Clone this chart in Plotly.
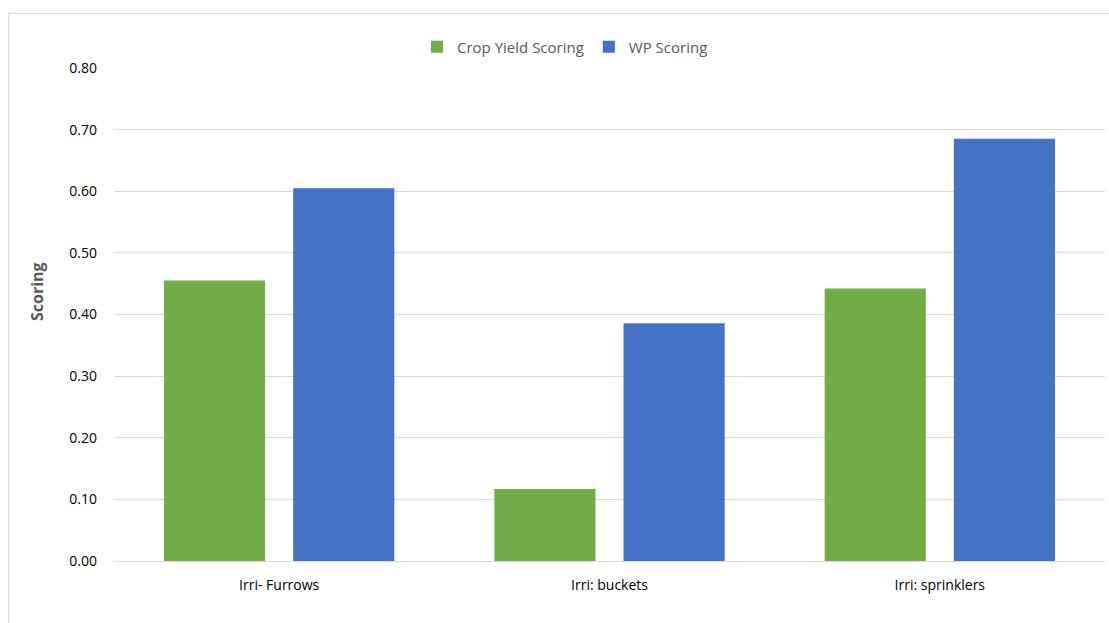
import plotly.graph_objects as go

categories = ["Irri- Furrows", "Irri: buckets", "Irri: sprinklers"]
crop_yield = [0.455, 0.117, 0.442]
wp_scoring = [0.605, 0.386, 0.685]
series_names = ["Crop Yield Scoring", "WP Scoring"]
y_ticks = [0.0, 0.1, 0.2, 0.3, 0.4, 0.5, 0.6, 0.7, 0.8]

W, H = 1109, 623
L, R, T, B = 114, 4, 68, 62
pw, ph = W - L - R, H - T - B

def px_x(p):
    return (p - L) / pw

def px_y(p):
    return (H - B - p) / ph

fig = go.Figure()
fig.add_trace(go.Bar(x=categories, y=crop_yield, name=series_names[0],
                     marker=dict(color="#70AD47", line=dict(width=0))))
fig.add_trace(go.Bar(x=categories, y=wp_scoring, name=series_names[1],
                     marker=dict(color="#4472C4", line=dict(width=0))))

font = "Open Sans, Liberation Sans, sans-serif"
fig.update_layout(
    width=W, height=H,
    margin=dict(l=L, r=R, t=T, b=B, autoexpand=False),
    paper_bgcolor="white", plot_bgcolor="white",
    barmode="group", bargap=0.218, bargroupgap=0.217,
    font=dict(family=font, size=14, color="#000000"),
    showlegend=True,
    legend=dict(orientation="h", x=px_x(565), xanchor="center",
                y=px_y(47), yanchor="middle",
                font=dict(size=15, color="#595959"),
                traceorder="normal", bgcolor="rgba(0,0,0,0)"),
    xaxis=dict(showgrid=False, showline=True, linecolor="#D9D9D9", linewidth=1,
               ticks="", ticklabelstandoff=11, tickfont=dict(size=14, color="#000000")),
    yaxis=dict(range=[0, 0.8], tickvals=y_ticks, tickformat=".2f",
               showgrid=True, gridcolor="#D9D9D9", gridwidth=1,
               zeroline=False, showline=False, ticks="", ticklabelstandoff=16,
               tickfont=dict(size=14, color="#000000")),
    annotations=[dict(text="<b>Scoring</b>", x=px_x(37), y=px_y(292),
                      xref="paper", yref="paper", xanchor="center", yanchor="middle",
                      showarrow=False, textangle=-90,
                      font=dict(size=16, color="#595959"))],
    shapes=[dict(type="rect", xref="paper", yref="paper",
                 x0=px_x(8.5), x1=px_x(1130), y0=px_y(13.5), y1=px_y(640),
                 line=dict(color="#D9D9D9", width=1), layer="below")],
)

fig.write_html("out.html")
